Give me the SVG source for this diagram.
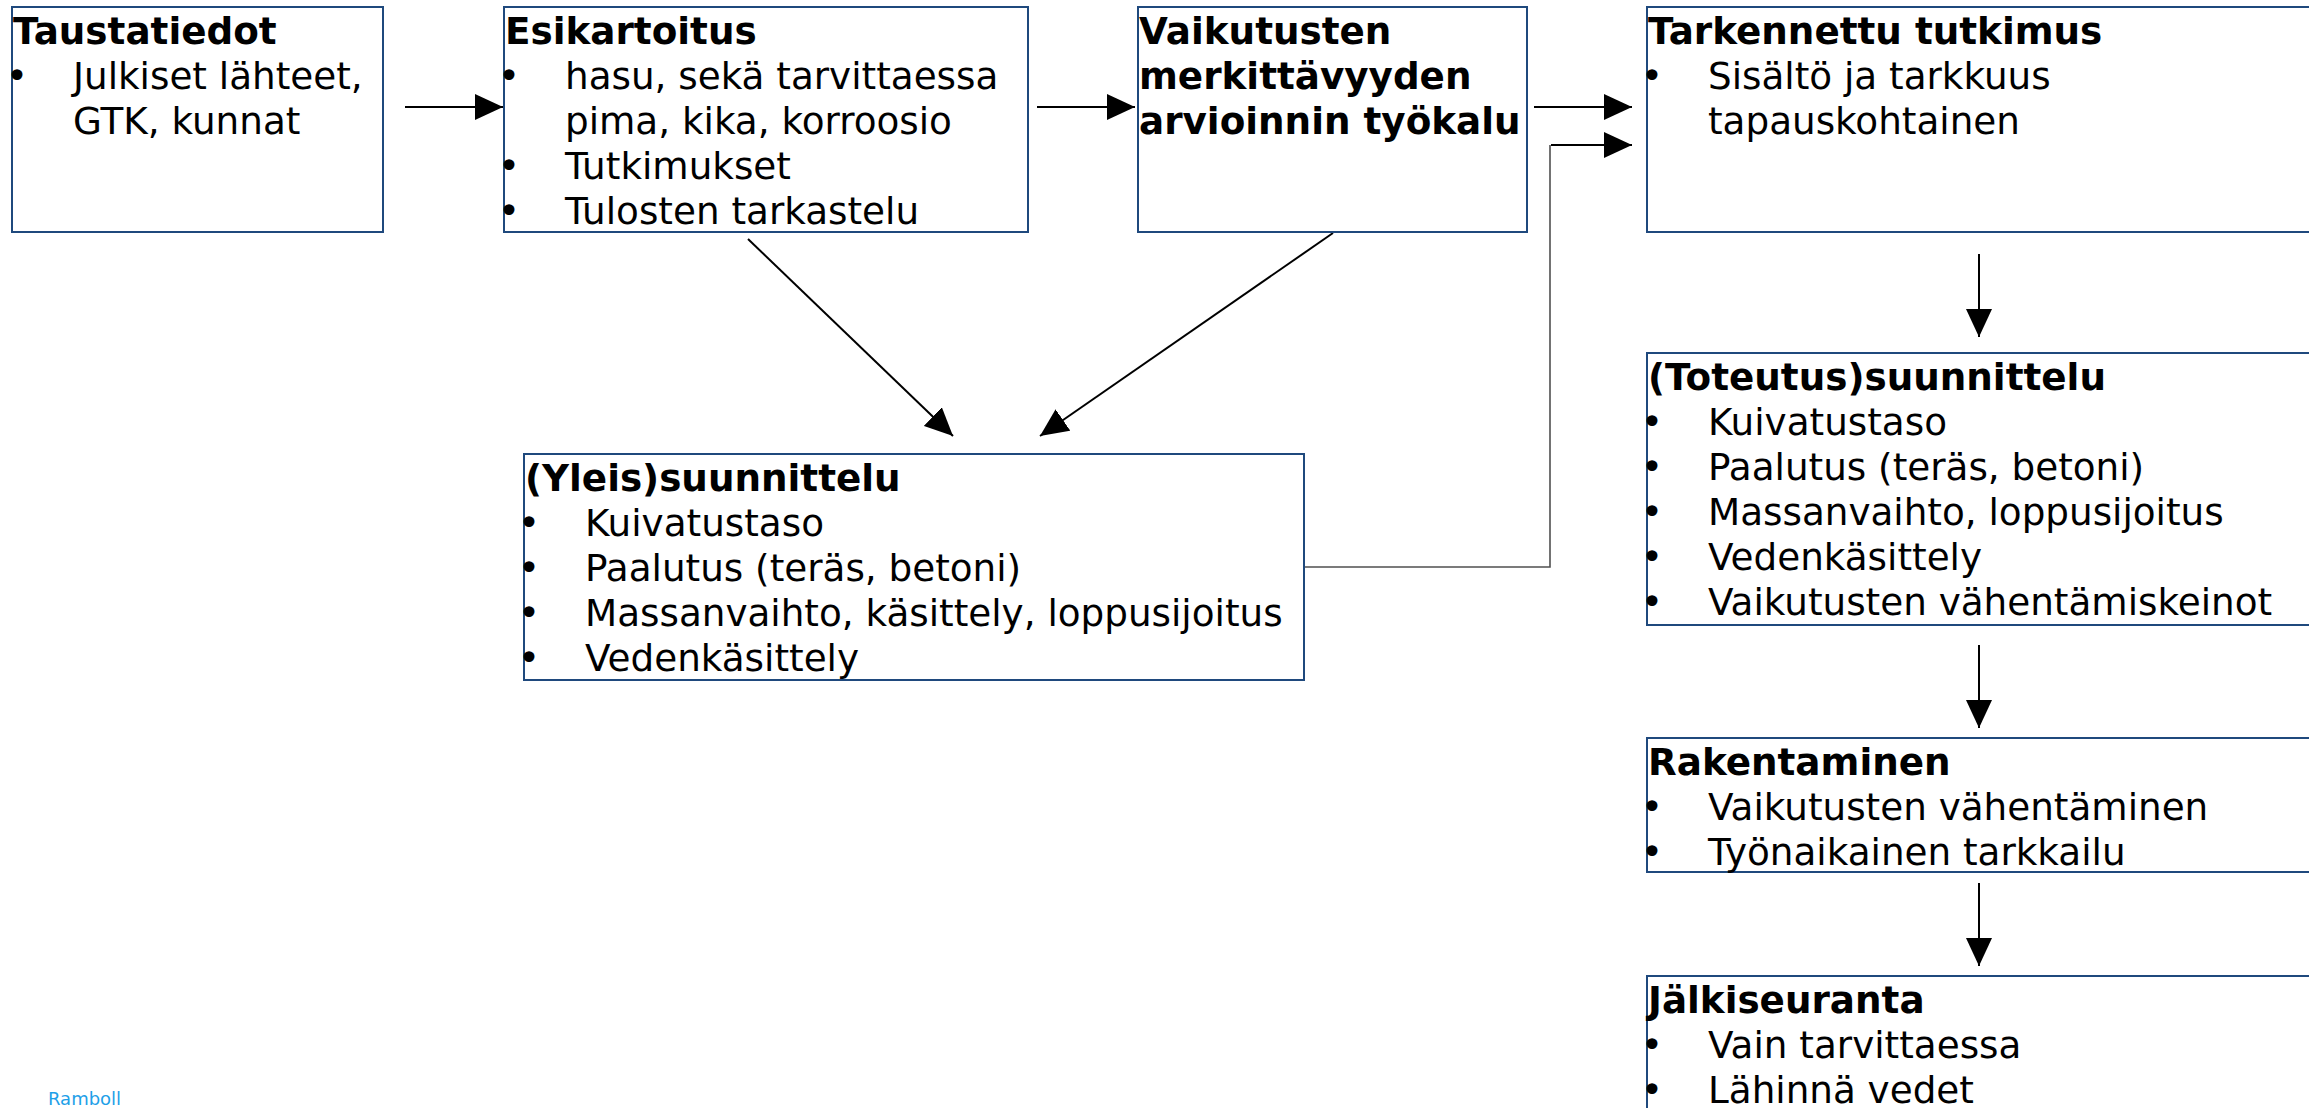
<svg xmlns="http://www.w3.org/2000/svg" width="2309" height="1108" viewBox="0 0 2309 1108">
<defs>
<marker id="ah" viewBox="0 0 28 26" refX="28" refY="13" markerWidth="28" markerHeight="26" markerUnits="userSpaceOnUse" orient="auto">
<path d="M0,0 L28,13 L0,26 Z" fill="#000"/>
</marker>
<style>
.box{fill:#fff;stroke:#1F497D;stroke-width:2}
text{font-family:"DejaVu Sans",Verdana,sans-serif;font-size:37.3px;fill:#000}
.t{font-weight:bold}
.b{text-anchor:middle}
.ar{stroke:#000;stroke-width:2;fill:none;marker-end:url(#ah)}
.gl{stroke:#505050;stroke-width:1.6;fill:none}
</style>
</defs>
<rect width="2309" height="1108" fill="#fff"/>

<g id="connectors">
<path class="ar" d="M405,107 L503,107"/>
<path class="ar" d="M1037,107 L1135,107"/>
<path class="ar" d="M1534,107 L1632,107"/>
<path class="gl" d="M1304,567 H1550 V145"/>
<path class="ar" d="M1551,145 L1632,145"/>
<path class="ar" d="M748,239 L953,436"/>
<path class="ar" d="M1333,233 L1040,436"/>
<path class="ar" d="M1979,254 L1979,337"/>
<path class="ar" d="M1979,645 L1979,728"/>
<path class="ar" d="M1979,883 L1979,966"/>
</g>

<g id="taustatiedot">
<rect class="box" x="12" y="7" width="371" height="225"/>
<text class="t" x="13" y="44">Taustatiedot</text>
<text class="b" x="17" y="89">•</text>
<text x="73" y="89">Julkiset lähteet,</text>
<text x="73" y="134">GTK, kunnat</text>
</g>

<g id="esikartoitus">
<rect class="box" x="504" y="7" width="524" height="225"/>
<text class="t" x="505" y="44">Esikartoitus</text>
<text class="b" x="509" y="89">•</text>
<text x="565" y="89">hasu, sekä tarvittaessa</text>
<text x="565" y="134">pima, kika, korroosio</text>
<text class="b" x="509" y="179">•</text>
<text x="565" y="179">Tutkimukset</text>
<text class="b" x="509" y="224">•</text>
<text x="565" y="224">Tulosten tarkastelu</text>
</g>

<g id="vaikutusten">
<rect class="box" x="1138" y="7" width="389" height="225"/>
<text class="t" x="1139" y="44">Vaikutusten</text>
<text class="t" x="1139" y="89">merkittävyyden</text>
<text class="t" x="1139" y="134">arvioinnin työkalu</text>
</g>

<g id="tarkennettu">
<rect class="box" x="1647" y="7" width="670" height="225"/>
<text class="t" x="1648" y="44">Tarkennettu tutkimus</text>
<text class="b" x="1652" y="89">•</text>
<text x="1708" y="89">Sisältö ja tarkkuus</text>
<text x="1708" y="134">tapauskohtainen</text>
</g>

<g id="yleissuunnittelu">
<rect class="box" x="524" y="454" width="780" height="226"/>
<text class="t" x="525" y="491">(Yleis)suunnittelu</text>
<text class="b" x="529" y="536">•</text>
<text x="585" y="536">Kuivatustaso</text>
<text class="b" x="529" y="581">•</text>
<text x="585" y="581">Paalutus (teräs, betoni)</text>
<text class="b" x="529" y="626">•</text>
<text x="585" y="626">Massanvaihto, käsittely, loppusijoitus</text>
<text class="b" x="529" y="671">•</text>
<text x="585" y="671">Vedenkäsittely</text>
</g>

<g id="toteutussuunnittelu">
<rect class="box" x="1647" y="353" width="670" height="272"/>
<text class="t" x="1648" y="390">(Toteutus)suunnittelu</text>
<text class="b" x="1652" y="435">•</text>
<text x="1708" y="435">Kuivatustaso</text>
<text class="b" x="1652" y="480">•</text>
<text x="1708" y="480">Paalutus (teräs, betoni)</text>
<text class="b" x="1652" y="525">•</text>
<text x="1708" y="525">Massanvaihto, loppusijoitus</text>
<text class="b" x="1652" y="570">•</text>
<text x="1708" y="570">Vedenkäsittely</text>
<text class="b" x="1652" y="615">•</text>
<text x="1708" y="615">Vaikutusten vähentämiskeinot</text>
</g>

<g id="rakentaminen">
<rect class="box" x="1647" y="738" width="670" height="134"/>
<text class="t" x="1648" y="775">Rakentaminen</text>
<text class="b" x="1652" y="820">•</text>
<text x="1708" y="820">Vaikutusten vähentäminen</text>
<text class="b" x="1652" y="865">•</text>
<text x="1708" y="865">Työnaikainen tarkkailu</text>
</g>

<g id="jalkiseuranta">
<rect class="box" x="1647" y="976" width="670" height="140"/>
<text class="t" x="1648" y="1013">Jälkiseuranta</text>
<text class="b" x="1652" y="1058">•</text>
<text x="1708" y="1058">Vain tarvittaessa</text>
<text class="b" x="1652" y="1103">•</text>
<text x="1708" y="1103">Lähinnä vedet</text>
</g>

<text x="48" y="1105" style="font-size:18px;fill:#1EA0E8">Ramboll</text>
</svg>
